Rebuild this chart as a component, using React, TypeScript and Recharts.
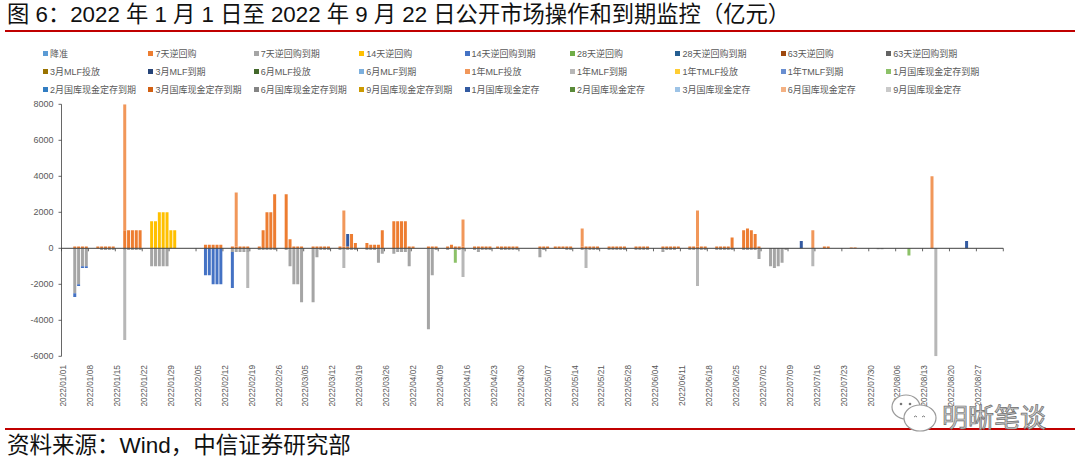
import React from 'react';
import { BarChart, Bar, XAxis, YAxis, ReferenceLine } from 'recharts';

type Run = [string, number[]];

// ---- categories (calendar days shown on the axis) ----
const DAY_COUNT = 245;
const pad = (n: number) => (n < 10 ? '0' + n : '' + n);
const categories: string[] = Array.from({ length: DAY_COUNT }, (_, i) => {
  const d = new Date(2022, 0, 1 + i);
  return `2022/${pad(d.getMonth() + 1)}/${pad(d.getDate())}`;
});

const yTicks = [-6000, -4000, -2000, 0, 2000, 4000, 6000, 8000];

// ---- series values (亿元), runs of consecutive days starting at MM/DD ----
const repo7: Run[] = [
  ['01/04', [100, 100, 100, 100]],
  ['01/10', [100, 100, 100, 100, 100]],
  ['01/17', [1000, 1000, 1000, 1000, 1000]],
  ['02/07', [200, 200, 200, 200, 200]],
  ['02/14', [100, 100, 100, 100, 100]],
  ['02/21', [100, 1000, 2000, 2000, 3000]],
  ['02/28', [3000, 500, 100, 100, 100]],
  ['03/07', [100, 100, 100, 100, 100]],
  ['03/14', [100, 100, 100, 800, 300]],
  ['03/21', [300, 200, 200, 200, 1000]],
  ['03/28', [1500, 1500, 1500, 1500, 100, 100]],
  ['04/06', [100, 100, 100]],
  ['04/11', [100, 200, 100, 100, 100]],
  ['04/18', [100, 100, 100, 100, 100]],
  ['04/24', [100, 100, 100, 100, 100, 100]],
  ['05/05', [100, 100, 100]],
  ['05/09', [100, 100, 100, 100, 100]],
  ['05/16', [100, 100, 100, 100, 100]],
  ['05/23', [100, 100, 100, 100, 100]],
  ['05/30', [100, 100, 100, 100]],
  ['06/06', [100, 100, 100, 100, 100]],
  ['06/13', [100, 100, 100, 100, 100]],
  ['06/20', [100, 100, 100, 100, 600]],
  ['06/27', [1000, 1100, 1000, 800, 100]],
  ['07/18', [100, 100]],
  ['07/25', [50, 50]],
];

const repo7Due: Run[] = [
  ['01/04', [-2500, -2000, -1000, -1000]],
  ['01/11', [-100, -100, -100, -100]],
  ['01/17', [-100, -100, -100, -100, -100]],
  ['01/24', [-1000, -1000, -1000, -1000, -1000]],
  ['02/14', [-200, -200, -200, -200, -200]],
  ['02/21', [-100, -100, -100, -100, -100]],
  ['02/28', [-100, -1000, -2000, -2000, -3000]],
  ['03/07', [-3000, -500, -100, -100, -100]],
  ['03/14', [-100, -100, -100, -100, -100]],
  ['03/21', [-100, -100, -100, -800, -300]],
  ['03/28', [-300, -200, -200, -200, -1000]],
  ['04/06', [-4500, -1500, -100]],
  ['04/11', [-100]],
  ['04/13', [-100, -100, -100]],
  ['04/18', [-100, -200, -100, -100, -100]],
  ['04/25', [-100, -100, -100, -100, -100]],
  ['05/05', [-500, -100]],
  ['05/12', [-100, -100]],
  ['05/16', [-100, -100, -100, -100, -100]],
  ['05/23', [-100, -100, -100, -100, -100]],
  ['05/30', [-100, -100, -100, -100]],
  ['06/06', [-200, -100, -100, -100]],
  ['06/13', [-100, -100, -100, -100, -100]],
  ['06/20', [-100, -100, -100, -100, -100]],
  ['06/27', [-100, -100, -100, -100, -600]],
  ['07/04', [-1000, -1100, -1000, -800, -100]],
  ['08/01', [-50, -50]],
];

const repo14: Run[] = [['01/24', [1500, 1500, 2000, 2000, 2000, 1000, 1000]]];

const repo14Due: Run[] = [
  ['01/04', [-200, -100, -100, -100]],
  ['02/07', [-1500, -1500, -2000, -2000, -2000]],
  ['02/14', [-2000]],
];

const mlf1y: Run[] = [
  ['01/17', [7000]],
  ['02/15', [3000]],
  ['03/15', [2000]],
  ['04/15', [1500]],
  ['05/16', [1000]],
  ['06/15', [2000]],
  ['07/15', [1000]],
  ['08/15', [4000]],
];

const mlf1yDue: Run[] = [
  ['01/17', [-5000]],
  ['02/18', [-2000]],
  ['03/15', [-1000]],
  ['04/15', [-1500]],
  ['05/17', [-1000]],
  ['06/15', [-2000]],
  ['07/15', [-1000]],
  ['08/16', [-6000]],
];

const deposit1m: Run[] = [
  ['03/16', [700]],
  ['07/12', [400]],
  ['08/24', [400]],
];

const deposit1mDue: Run[] = [
  ['04/13', [-700]],
  ['08/09', [-400]],
];

const empty: Run[] = [];

// legend order = series order (Excel default palette)
const seriesList: { name: string; color: string; runs: Run[] }[] = [
  { name: '降准', color: '#5B9BD5', runs: empty },
  { name: '7天逆回购', color: '#ED7D31', runs: repo7 },
  { name: '7天逆回购到期', color: '#A5A5A5', runs: repo7Due },
  { name: '14天逆回购', color: '#FFC000', runs: repo14 },
  { name: '14天逆回购到期', color: '#4472C4', runs: repo14Due },
  { name: '28天逆回购', color: '#70AD47', runs: empty },
  { name: '28天逆回购到期', color: '#255E91', runs: empty },
  { name: '63天逆回购', color: '#9E480E', runs: empty },
  { name: '63天逆回购到期', color: '#636363', runs: empty },
  { name: '3月MLF投放', color: '#997300', runs: empty },
  { name: '3月MLF到期', color: '#264478', runs: empty },
  { name: '6月MLF投放', color: '#43682B', runs: empty },
  { name: '6月MLF到期', color: '#7CAFDD', runs: empty },
  { name: '1年MLF投放', color: '#F1975A', runs: mlf1y },
  { name: '1年MLF到期', color: '#B7B7B7', runs: mlf1yDue },
  { name: '1年TMLF投放', color: '#FFCD33', runs: empty },
  { name: '1年TMLF到期', color: '#698ED0', runs: empty },
  { name: '1月国库现金定存到期', color: '#8CC168', runs: deposit1mDue },
  { name: '2月国库现金定存到期', color: '#327DC2', runs: empty },
  { name: '3月国库现金定存到期', color: '#D26012', runs: empty },
  { name: '6月国库现金定存到期', color: '#848484', runs: empty },
  { name: '9月国库现金定存到期', color: '#CC9A00', runs: empty },
  { name: '1月国库现金定存', color: '#335AA1', runs: deposit1m },
  { name: '2月国库现金定存', color: '#5A8A39', runs: empty },
  { name: '3月国库现金定存', color: '#9DC3E6', runs: empty },
  { name: '6月国库现金定存', color: '#F4B183', runs: empty },
  { name: '9月国库现金定存', color: '#C9C9C9', runs: empty },
];

// ---- build table ----
const data: Record<string, any>[] = categories.map((c) => {
  const row: Record<string, any> = { date: c };
  seriesList.forEach((s, i) => (row['s' + i] = 0));
  return row;
});
seriesList.forEach((s, si) => {
  s.runs.forEach(([start, vals]) => {
    const idx = categories.indexOf('2022/' + start);
    vals.forEach((v, k) => {
      if (idx >= 0 && data[idx + k]) data[idx + k]['s' + si] = v;
    });
  });
});

// ---- layout ----
const PLOT_LEFT = 61.5;
const PLOT_RIGHT = 1003.3;
const PLOT_TOP = 104.3;
const PLOT_BOTTOM = 356.3;
const PLOT_W = PLOT_RIGHT - PLOT_LEFT;
const BW = PLOT_W / DAY_COUNT;
const ZERO_Y = PLOT_TOP + ((PLOT_BOTTOM - PLOT_TOP) * 8000) / 14000;
const LABEL_TOP = 365;
const FONT = '"Liberation Sans", Arial, "Noto Sans CJK SC", sans-serif';
const LAST_LABEL = categories[Math.floor((DAY_COUNT - 1) / 7) * 7];

const XTick = (props: any) => {
  const { x, payload } = props;
  const isLast = payload.value === LAST_LABEL;
  return (
    <g>
      <line x1={x - BW / 2} x2={x - BW / 2} y1={ZERO_Y} y2={ZERO_Y + 3} stroke="#404040" strokeWidth={0.8} />
      {isLast && (
        <line x1={x + 6.5 * BW} x2={x + 6.5 * BW} y1={ZERO_Y} y2={ZERO_Y + 3} stroke="#404040" strokeWidth={0.8} />
      )}
      <text
        x={x}
        y={LABEL_TOP}
        transform={`rotate(-90 ${x} ${LABEL_TOP})`}
        textAnchor="end"
        dy="0.35em"
        fontSize={8.3}
        fill="#595959"
        fontFamily={FONT}
      >
        {payload.value}
      </text>
    </g>
  );
};

const LEGEND_X0 = 43;
const LEGEND_DX = 105.4;
const LEGEND_Y = [53.5, 71.5, 89.5];

export default function App() {
  return (
    <div
      style={{
        position: 'absolute',
        left: 0,
        top: 0,
        width: 1080,
        height: 463,
        background: '#fff',
        fontFamily: FONT,
        overflow: 'hidden',
      }}
    >
      <div style={{ position: 'absolute', left: 7, top: 2, fontSize: 22.3, color: '#111', whiteSpace: 'nowrap', lineHeight: '26px' }}>
        图 6：2022 年 1 月 1 日至 2022 年 9 月 22 日公开市场操作和到期监控（亿元）
      </div>
      <div style={{ position: 'absolute', left: 5, top: 30, width: 1070, height: 2, background: '#C00000' }} />

      {seriesList.map((s, i) => {
        const r = Math.floor(i / 9);
        const c = i % 9;
        return (
          <div
            key={s.name}
            style={{
              position: 'absolute',
              left: LEGEND_X0 + c * LEGEND_DX,
              top: LEGEND_Y[r] - 6,
              height: 12,
              display: 'flex',
              alignItems: 'center',
              fontSize: 9,
              color: '#595959',
              whiteSpace: 'nowrap',
            }}
          >
            <span style={{ display: 'inline-block', width: 5, height: 5, background: s.color, marginRight: 2 }} />
            {s.name}
          </div>
        );
      })}

      <div style={{ position: 'absolute', left: 0, top: 0 }}>
        <BarChart
          width={1080}
          height={463}
          data={data}
          stackOffset="sign"
          barCategoryGap="6%"
          margin={{ top: PLOT_TOP, right: 1080 - PLOT_RIGHT, bottom: 463 - PLOT_BOTTOM - 60, left: PLOT_LEFT - 50 }}
        >
          <XAxis
            dataKey="date"
            type="category"
            interval={6}
            height={60}
            axisLine={false}
            tickLine={false}
            tick={<XTick />}
          />
          <YAxis
            width={50}
            domain={[-6000, 8000]}
            ticks={yTicks}
            allowDataOverflow
            tickSize={3}
            tickMargin={5}
            axisLine={{ stroke: '#404040', strokeWidth: 0.8 }}
            tickLine={{ stroke: '#404040', strokeWidth: 0.8 }}
            tick={{ fontSize: 9, fill: '#595959', fontFamily: FONT }}
          />
          {seriesList.map((s, i) => (
            <Bar key={s.name} dataKey={'s' + i} name={s.name} stackId="ops" fill={s.color} isAnimationActive={false} />
          ))}
          <ReferenceLine y={0} stroke="#404040" strokeWidth={1} />
        </BarChart>
      </div>

      <div style={{ position: 'absolute', left: 5, top: 428, width: 1070, height: 2, background: '#C00000' }} />
      <div style={{ position: 'absolute', left: 7, top: 432, fontSize: 22.5, color: '#111', whiteSpace: 'nowrap', lineHeight: '27px' }}>
        资料来源：Wind，中信证券研究部
      </div>

      <svg style={{ position: 'absolute', left: 880, top: 390 }} width={180} height={48}>
        <ellipse cx={26} cy={17} rx={14} ry={12} fill="#fff" stroke="#9a9a9a" strokeWidth={1.2} />
        <circle cx={21} cy={14} r={1.3} fill="#777" />
        <circle cx={30} cy={14} r={1.3} fill="#777" />
        <ellipse cx={40} cy={28} rx={16} ry={13} fill="#fff" stroke="#9a9a9a" strokeWidth={1.2} />
        <path d="M34 27 q1.5 -2 3 0 M42 27 q1.5 -2 3 0" fill="none" stroke="#777" strokeWidth={1} />
        <text x={62} y={37} fontSize={26} fill="#c8c8c8" stroke="#6f6f6f" strokeWidth={0.7} fontFamily='"Noto Sans CJK SC", sans-serif'>
          明晰笔谈
        </text>
      </svg>
    </div>
  );
}
